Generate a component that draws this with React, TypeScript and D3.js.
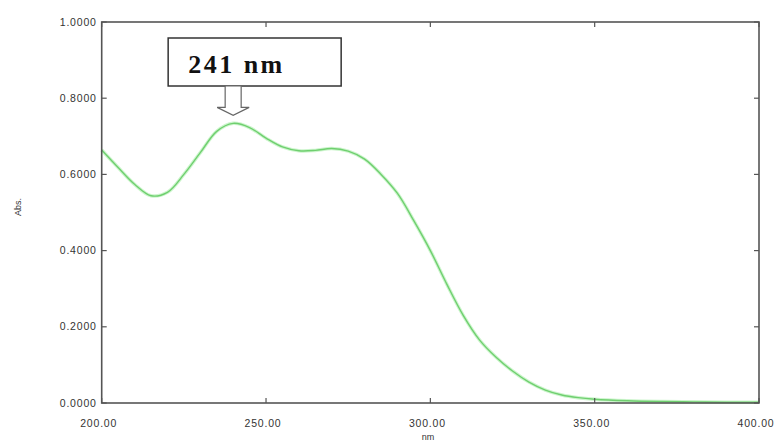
import React from "react";
import * as d3 from "d3";

const wavelengths = [200, 205, 210, 215, 220, 225, 230, 235, 240, 245, 250, 255, 260, 265, 270, 275, 280, 285, 290, 295, 300, 305, 310, 315, 320, 325, 330, 335, 340, 345, 350, 360, 370, 380, 390, 400];
const absorbance = [0.664, 0.618, 0.574, 0.544, 0.553, 0.600, 0.657, 0.713, 0.734, 0.723, 0.695, 0.672, 0.662, 0.663, 0.668, 0.661, 0.640, 0.600, 0.550, 0.478, 0.400, 0.312, 0.230, 0.165, 0.120, 0.084, 0.055, 0.034, 0.021, 0.014, 0.010, 0.006, 0.004, 0.003, 0.002, 0.002];
const xTicks = [200, 250, 300, 350, 400];
const yTicks = [0, 0.2, 0.4, 0.6, 0.8, 1.0];
const peakLabel = "241 nm";
const peakWavelength = 240;
const peakAbs = 0.734;

const W = 776, H = 441;
const L = 101.7, R = 759, T = 22, B = 403;

export default function App() {
  const x = d3.scaleLinear().domain([200, 400]).range([L, R]);
  const y = d3.scaleLinear().domain([0, 1]).range([B, T]);
  const line = d3.line<number>().x((_, i) => x(wavelengths[i])).y((d) => y(d)).curve(d3.curveCatmullRom.alpha(0.5));
  const tipX = x(peakWavelength);
  const tipY = y(peakAbs) - 8;
  const boxL = tipX - 65, boxW = 173, boxT = 38, boxB = 86;
  const axisColor = "#555";
  const tick = 5;
  const sans = "Liberation Sans, Arial, sans-serif";
  return (
    <svg width={W} height={H} style={{ position: "absolute", left: 0, top: 0, background: "#fff" }}>
      <rect x={0} y={0} width={W} height={H} fill="#fff" />
      <path d={line(absorbance) || ""} fill="none" stroke="#cdf5cd" strokeWidth={3.5} />
      <path d={line(absorbance) || ""} fill="none" stroke="#6fcf6f" strokeWidth={1.4} />
      <rect x={L} y={T} width={R - L} height={B - T} fill="none" stroke={axisColor} strokeWidth={1.6} />
      {yTicks.map((t) => (
        <g key={"y" + t}>
          <line x1={L} x2={L + tick} y1={y(t)} y2={y(t)} stroke={axisColor} strokeWidth={1.2} />
          <line x1={R} x2={R - tick} y1={y(t)} y2={y(t)} stroke={axisColor} strokeWidth={1.2} />
          <text x={L - 5} y={y(t)} dy="0.35em" textAnchor="end" fontFamily={sans} fontSize={10.5} letterSpacing={0.8} fill="#333">{t.toFixed(4)}</text>
        </g>
      ))}
      {xTicks.map((t) => (
        <g key={"x" + t}>
          <line x1={x(t)} x2={x(t)} y1={B} y2={B - tick} stroke={axisColor} strokeWidth={1.2} />
          <line x1={x(t)} x2={x(t)} y1={T} y2={T + tick} stroke={axisColor} strokeWidth={1.2} />
          <text x={x(t) - 3} y={B + 24} textAnchor="middle" fontFamily={sans} fontSize={10.5} letterSpacing={0.8} fill="#333">{t.toFixed(2)}</text>
        </g>
      ))}
      <text x={428} y={440} textAnchor="middle" fontFamily={sans} fontSize={9} fill="#333">nm</text>
      <text transform={`translate(21,207) rotate(-90)`} textAnchor="middle" fontFamily={sans} fontSize={9} fill="#333">Abs.</text>
      <rect x={boxL} y={boxT} width={boxW} height={boxB - boxT} fill="#fff" stroke="#333" strokeWidth={1.5} />
      <text x={boxL + 20} y={boxT + 35} fontFamily="Liberation Serif, Times New Roman, serif" fontWeight="bold" fontSize={26} letterSpacing={2.5} fill="#111">{peakLabel}</text>
      <polygon
        points={[
          [tipX - 8, boxB], [tipX - 8, tipY - 8], [tipX - 16, tipY - 8], [tipX, tipY],
          [tipX + 16, tipY - 8], [tipX + 8, tipY - 8], [tipX + 8, boxB],
        ].map((p) => p.join(",")).join(" ")}
        fill="#fff" stroke="#666" strokeWidth={1.2}
      />
    </svg>
  );
}
